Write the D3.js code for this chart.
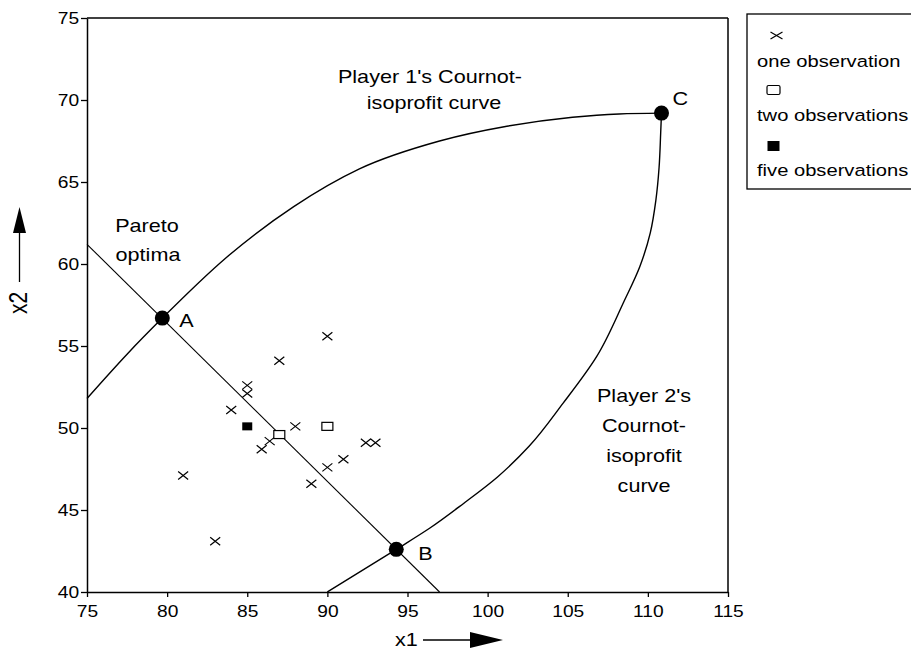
<!DOCTYPE html>
<html>
<head>
<meta charset="utf-8">
<script src="https://cdn.jsdelivr.net/npm/d3@7"></script>
<style>
  html, body { margin: 0; padding: 0; background: #fff; }
  svg { display: block; }
  text { font-family: "Liberation Sans", Arial, Helvetica, sans-serif; fill: #000; }
</style>
</head>
<body>
<svg id="chart" width="911" height="652"></svg>
<script>
// ---- data ----
const xTicks = [75, 80, 85, 90, 95, 100, 105, 110, 115];
const yTicks = [40, 45, 50, 55, 60, 65, 70, 75];

// Pareto optima line
const paretoX = [75, 97];
const paretoY = [61.2, 40];

// Player 1's Cournot-isoprofit curve
const p1X = [75, 77.5, 79.7, 83.7, 87.9, 92.0, 97.0, 101.2, 105.3, 108.2, 110.85];
const p1Y = [51.8, 54.5, 56.7, 60.4, 63.5, 65.8, 67.5, 68.4, 68.95, 69.15, 69.2];

// Player 2's Cournot-isoprofit curve
const p2X = [90.0, 94.3, 96.4, 98.5, 100.6, 102.6, 104.7, 106.8, 108.5, 109.5, 110.15, 110.5, 110.7, 110.8, 110.85];
const p2Y = [40.0, 42.6, 43.9, 45.4, 47.0, 48.9, 51.5, 54.35, 57.7, 59.85, 61.9, 63.9, 65.9, 68.0, 69.2];

// Labelled points
const ptLabels = ["A", "B", "C"];
const ptX = [79.7, 94.3, 110.85];
const ptY = [56.7, 42.6, 69.2];

// Observations
const oneX = [90, 87, 85, 85, 84, 88, 86.4, 85.9, 92.4, 93.0, 91.0, 90.0, 89.0, 81.0, 83.0];
const oneY = [55.6, 54.1, 52.6, 52.1, 51.1, 50.1, 49.2, 48.7, 49.1, 49.1, 48.1, 47.6, 46.6, 47.1, 43.1];
const twoX = [87, 90];
const twoY = [49.6, 50.1];
const fiveX = [85];
const fiveY = [50.1];

const legendLabels = ["one observation", "two observations", "five observations"];

// ---- drawing ----
const svg = d3.select("#chart");
const SX = 1.2; // horizontal stretch of the scanned lettering

const x = d3.scaleLinear().domain([75, 115]).range([87, 728]);
const y = d3.scaleLinear().domain([40, 75]).range([592, 18]);

function label(g, txt, tx, ty, size, anchor, extra) {
  return g.append("text")
    .attr("transform", `translate(${tx},${ty}) scale(${SX},1)` + (extra || ""))
    .attr("text-anchor", anchor || "start")
    .style("font-size", size + "px")
    .text(txt);
}

// axes
const axL = svg.append("g").attr("transform", `translate(${x(75)},0)`)
  .call(d3.axisLeft(y).tickValues(yTicks).tickSize(6).tickSizeOuter(0).tickFormat(d3.format("d")));
const axB = svg.append("g").attr("transform", `translate(0,${y(40)})`)
  .call(d3.axisBottom(x).tickValues(xTicks).tickSize(5).tickSizeOuter(0).tickFormat(d3.format("d")));
[axL, axB].forEach(a => {
  a.select(".domain").attr("stroke", "#000").attr("stroke-width", 1.5);
  a.selectAll(".tick line").attr("stroke", "#000").attr("stroke-width", 1.3);
  a.selectAll(".tick text")
    .attr("font-family", null)
    .style("font-family", "'Liberation Sans', Arial, sans-serif")
    .style("font-size", "16px").attr("fill", "#000");
});
axL.selectAll(".tick text").attr("x", -6.5).attr("dy", "0.36em")
  .attr("transform", `scale(${SX},1)`);
axB.selectAll(".tick text").attr("y", 25).attr("dy", 0)
  .attr("transform", `scale(${SX},1)`);

// frame top & right
svg.append("line").attr("x1", x(75)).attr("x2", x(115)).attr("y1", y(75)).attr("y2", y(75))
  .attr("stroke", "#000").attr("stroke-width", 1.5);
svg.append("line").attr("x1", x(115)).attr("x2", x(115)).attr("y1", y(75)).attr("y2", y(40))
  .attr("stroke", "#000").attr("stroke-width", 1.5);

// lines
const lineGen = d3.line().x(d => x(d[0])).y(d => y(d[1]));
const curve1 = d3.line().x(d => x(d[0])).y(d => y(d[1])).curve(d3.curveMonotoneX);
const curve2 = d3.line().x(d => x(d[0])).y(d => y(d[1])).curve(d3.curveMonotoneY);

svg.append("path").datum(paretoX.map((v, i) => [v, paretoY[i]]))
  .attr("d", lineGen).attr("fill", "none").attr("stroke", "#000").attr("stroke-width", 1.1);
svg.append("path").datum(p1X.map((v, i) => [v, p1Y[i]]))
  .attr("d", curve1).attr("fill", "none").attr("stroke", "#000").attr("stroke-width", 1.4);
svg.append("path").datum(p2X.map((v, i) => [v, p2Y[i]]))
  .attr("d", curve2).attr("fill", "none").attr("stroke", "#000").attr("stroke-width", 1.4);

// markers
function cross(g, cx, cy, w, h) {
  g.append("path")
    .attr("d", `M${cx - w / 2},${cy - h / 2}L${cx + w / 2},${cy + h / 2}M${cx - w / 2},${cy + h / 2}L${cx + w / 2},${cy - h / 2}`)
    .attr("stroke", "#000").attr("stroke-width", 1.2).attr("fill", "none");
}
const mk = svg.append("g");
oneX.forEach((v, i) => cross(mk, x(v), y(oneY[i]), 10, 8));
twoX.forEach((v, i) => mk.append("rect")
  .attr("x", x(v) - 5.5).attr("y", y(twoY[i]) - 4).attr("width", 11).attr("height", 8)
  .attr("fill", "#fff").attr("stroke", "#000").attr("stroke-width", 1.2));
fiveX.forEach((v, i) => mk.append("rect")
  .attr("x", x(v) - 5).attr("y", y(fiveY[i]) - 4).attr("width", 10).attr("height", 8)
  .attr("fill", "#000"));

// big labelled dots
const labOff = [[17, 9], [22, 11], [11, -8]];
ptX.forEach((v, i) => {
  svg.append("circle").attr("cx", x(v)).attr("cy", y(ptY[i])).attr("r", 7.5).attr("fill", "#000");
  label(svg, ptLabels[i], x(v) + labOff[i][0], y(ptY[i]) + labOff[i][1], 18, "start");
});

// annotations
label(svg, "Player 1's Cournot-", 430, 83, 18, "middle");
label(svg, "isoprofit curve", 434, 109, 18, "middle");
label(svg, "Pareto", 147, 232, 18, "middle");
label(svg, "optima", 148, 261, 18, "middle");
label(svg, "Player 2's", 644, 402, 18, "middle");
label(svg, "Cournot-", 644, 432, 18, "middle");
label(svg, "isoprofit", 644, 462, 18, "middle");
label(svg, "curve", 644, 492, 18, "middle");

// axis titles with arrows
label(svg, "x1", 395, 646, 18, "start");
svg.append("line").attr("x1", 423).attr("x2", 472).attr("y1", 640).attr("y2", 640)
  .attr("stroke", "#000").attr("stroke-width", 1.3);
svg.append("path").attr("d", "M470,632L503,640L470,648Z").attr("fill", "#000");

svg.append("text")
  .attr("transform", `translate(27,303) scale(${SX},1) rotate(-90)`)
  .attr("text-anchor", "middle").style("font-size", "21px").text("x2");
svg.append("line").attr("x1", 19.5).attr("x2", 19.5).attr("y1", 282).attr("y2", 230)
  .attr("stroke", "#000").attr("stroke-width", 1.3);
svg.append("path").attr("d", "M13,233L19.5,207L26,233Z").attr("fill", "#000");

// legend
const lg = svg.append("g");
lg.append("rect").attr("x", 747).attr("y", 14).attr("width", 180).attr("height", 175)
  .attr("fill", "#fff").attr("stroke", "#000").attr("stroke-width", 1.3);
cross(lg, 776.5, 35.5, 12, 7);
lg.append("rect").attr("x", 767).attr("y", 85.5).attr("width", 13).attr("height", 9)
  .attr("rx", 1.5).attr("fill", "#fff").attr("stroke", "#000").attr("stroke-width", 1.2);
lg.append("rect").attr("x", 767.5).attr("y", 141).attr("width", 12).attr("height", 10)
  .attr("fill", "#000");
const lgBase = [66.5, 120.5, 176];
legendLabels.forEach((t, i) => label(lg, t, 757, lgBase[i], 16.8, "start"));
</script>
</body>
</html>
